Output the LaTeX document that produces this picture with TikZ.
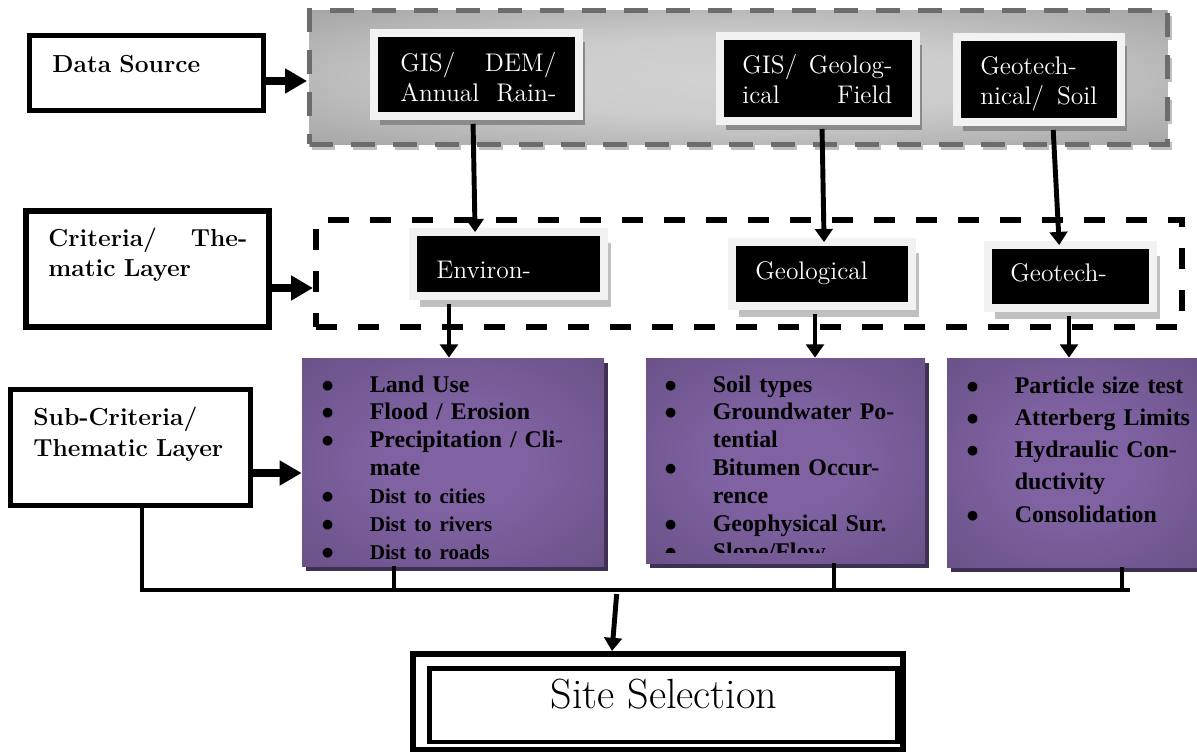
\documentclass[tikz,border=0pt]{standalone}
\usepackage{fontspec}
\newfontfamily\tmsfont{Liberation Serif}
\usetikzlibrary{arrows.meta,positioning,calc,fit,shadows}

\definecolor{paleframe}{RGB}{242,242,242}
\definecolor{darkshade}{RGB}{138,138,138}
\definecolor{lightshade}{RGB}{192,192,192}
\definecolor{greymid}{RGB}{210,210,210}
\definecolor{greyrim}{RGB}{88,88,88}
\definecolor{dashgrey}{RGB}{108,108,108}
\definecolor{purplemid}{RGB}{128,98,162}
\definecolor{purplerim}{RGB}{92,72,120}
\definecolor{purpleshade}{RGB}{62,48,82}

\pgfdeclareradialshading{greyglow}{\pgfpoint{0bp}{0bp}}{%
  color(0bp)=(greymid); color(15bp)=(greymid!95!greyrim); color(38bp)=(greyrim!40!greymid); color(55bp)=(greyrim!70!greymid); color(72bp)=(greyrim)}
\pgfdeclareradialshading{purpleglow}{\pgfpoint{0bp}{0bp}}{%
  color(0bp)=(purplemid); color(12bp)=(purplemid); color(50bp)=(purplerim); color(72bp)=(purplerim!80!black)}

\newcommand{\tmsb}{\tmsfont\bfseries}
\newcommand{\itm}{\makebox[0.97cm][l]{$\bullet$}}
\newcommand{\cnt}{\hspace*{0.97cm}}

\begin{document}
\begin{tikzpicture}[x=0.02cm,y=-0.02cm,
    every node/.style={inner sep=0pt},
    headbox/.style={draw,fill=white},
    srcbox/.style={fill=black,draw=paleframe,line width=4.5pt,
      drop shadow={shadow xshift=0.12cm,shadow yshift=-0.18cm,fill=darkshade,opacity=1}},
    layerbox/.style={fill=black,draw=paleframe,line width=4.5pt,
      drop shadow={shadow xshift=0.14cm,shadow yshift=-0.22cm,fill=lightshade,opacity=1}},
    listbox/.style={shade,shading=purpleglow,
      drop shadow={shadow xshift=0.08cm,shadow yshift=-0.1cm,fill=purpleshade,opacity=1}},
    boxtext/.style={anchor=base west,text=white,align=left,text width=4cm,
      font=\fontsize{14.5}{17}\selectfont},
    headtext/.style={anchor=base west,align=left,text width=4.2cm,
      font=\fontsize{14}{17}\selectfont\bfseries},
    listtext/.style={anchor=base west,align=left,text width=6cm,
      font={\tmsb\fontsize{13.6}{15.9}\selectfont}},
    bigarrow/.style={line width=4.8pt,-{Triangle[length=12.5pt,width=13.5pt]}},
    flow/.style={line width=2.8pt,shorten <=2.3pt,-{Triangle[length=7.5pt,width=10pt]}},
    bus/.style={line width=2.8pt}]

  \useasboundingbox (0,0) rectangle (1197,753);

  % data sources
  \node[fit={(29.5,35.5) (263.5,110.5)},headbox,line width=2.8pt] (ds) {};
  \node[headtext] (dstxt) at (52,73) {Data Source};
  \node[fit={(309.5,10.5) (1167.5,144.5)},shade,shading=greyglow,
    preaction={draw=lightshade,line width=2.8pt,transform canvas={shift={(2,3)}}},
    draw=dashgrey,line width=2.8pt,dash pattern=on 0.47cm off 0.37cm] (src) {};
  \node[fit={(374,33) (579,116)},srcbox] (gis1) {};
  \node[boxtext] (gis1txt) at (400,72)
    {\makebox[3.12cm][l]{GIS/\hfill DEM/}\\\makebox[3.12cm][l]{Annual\hfill Rain-}};
  \node[fit={(720,36) (916,121)},srcbox] (gis2) {};
  \node[boxtext] (gis2txt) at (742,74)
    {\makebox[3cm][l]{GIS/\hfill Geolog-}\\\makebox[3cm][l]{ical\hfill Field}};
  \node[fit={(957,37) (1121,122)},srcbox] (gis3) {};
  \node[boxtext] (gis3txt) at (980,75) {Geotech-\\\makebox[2.34cm][l]{nical/\hfill Soil}};

  % criteria
  \node[fit={(316,220) (1182,327)},draw,line width=3.4pt,dash pattern=on 0.42cm off 0.42cm] (crit) {};
  \node[fit={(26,211) (269,327)},headbox,line width=3.4pt] (crb) {};
  \node[headtext] (crbtxt) at (48,247) {\makebox[3.98cm][l]{Criteria/\hfill The-}\\matic Layer};
  \node[fit={(413,232) (604,296)},layerbox] (env) {};
  \node[boxtext] (envtxt) at (436,278) {Environ-};
  \node[fit={(732,242) (912,306)},layerbox] (geo) {};
  \node[boxtext] (geotxt) at (755,279) {Geological};
  \node[fit={(988,245) (1153,308)},layerbox] (gtc) {};
  \node[boxtext] (gtctxt) at (1010,282) {Geotech-};

  % sub-criteria
  \node[fit={(10.5,389.5) (250.5,505.5)},headbox,line width=2.8pt] (sub) {};
  \node[headtext,font=\fontsize{14}{18.1}\selectfont\bfseries] (subtxt) at (33,425)
    {Sub-Criteria/\\Thematic Layer};
  \node[fit={(302,358) (604,566)},listbox] (envp) {};
  \node[listtext] (envlist) at (321,392) {\itm Land Use\\\itm Flood / Erosion\\
    \itm Precipitation / Cli-\\\cnt mate\\
    \itm{\fontsize{12}{15.9}\selectfont Dist to cities}\\
    \itm{\fontsize{12}{15.9}\selectfont Dist to rivers}\\
    \itm{\fontsize{12}{15.9}\selectfont Dist to roads}};
  \node[fit={(646,358) (925,563)},listbox] (geop) {};
  \begin{scope}
    \clip (646,358) rectangle (925,552);
    \node[listtext] (geolist) at (664,392) {\itm Soil types\\\itm Groundwater Po-\\
      \cnt tential\\\itm Bitumen Occur-\\\cnt rence\\\itm Geophysical Sur.\\\itm Slope/Flow};
  \end{scope}
  \node[fit={(947,358) (1200,567)},listbox] (tchp) {};
  \node[listtext,font={\tmsb\fontsize{13.6}{18.4}\selectfont}] (tchlist) at (966,393)
    {\itm Particle size test\\\itm Atterberg Limits\\\itm Hydraulic Con-\\
    \cnt ductivity\\\itm Consolidation};

  % site selection
  \node[fit={(413,654) (903,749.5)},headbox,line width=3.4pt] (site) {};
  \node[fit={(429.5,668.5) (897.5,742)},draw,line width=2.8pt] (siteinner) {};
  \node[anchor=base,font=\fontsize{24}{28}\selectfont] (sitetxt) at (664,708) {Site Selection};

  % connectors
  \draw[bigarrow] (ds.east |- 0,81) -- (src.west |- 0,81);
  \draw[bigarrow] (crb.east |- 0,288) -- (crit.west |- 0,288);
  \draw[bigarrow] (sub.east |- 0,473) -- (envp.west |- 0,473);
  \draw[flow,shorten >=-2.3pt] (473,0 |- gis1.south) -- (475,0 |- env.north);
  \draw[flow,shorten >=-2.3pt] (822,0 |- gis2.south) -- (824,0 |- geo.north);
  \draw[flow,shorten >=-2.3pt] (1053,0 |- gis3.south) -- (1059,0 |- gtc.north);
  \draw[flow] (449,0 |- env.south) -- (449,0 |- envp.north);
  \draw[flow] (815,0 |- geo.south) -- (815,0 |- geop.north);
  \draw[flow] (1069,0 |- gtc.south) -- (1069,0 |- tchp.north);

  \coordinate (busL) at (142,590);
  \coordinate (busR) at (1130,590);
  \coordinate (busM) at (617,590);
  \draw[bus] (sub.south -| busL) -- (busL) -- (busR);
  \draw[bus] (394,0 |- envp.south) -- (394,0 |- busL);
  \draw[bus] (834,0 |- geop.south) -- (834,0 |- busL);
  \draw[bus] (1122,0 |- tchp.south) -- (1122,0 |- busL);
  \draw[flow] (busM) -- (612,0 |- site.north);
\end{tikzpicture}
\end{document}
